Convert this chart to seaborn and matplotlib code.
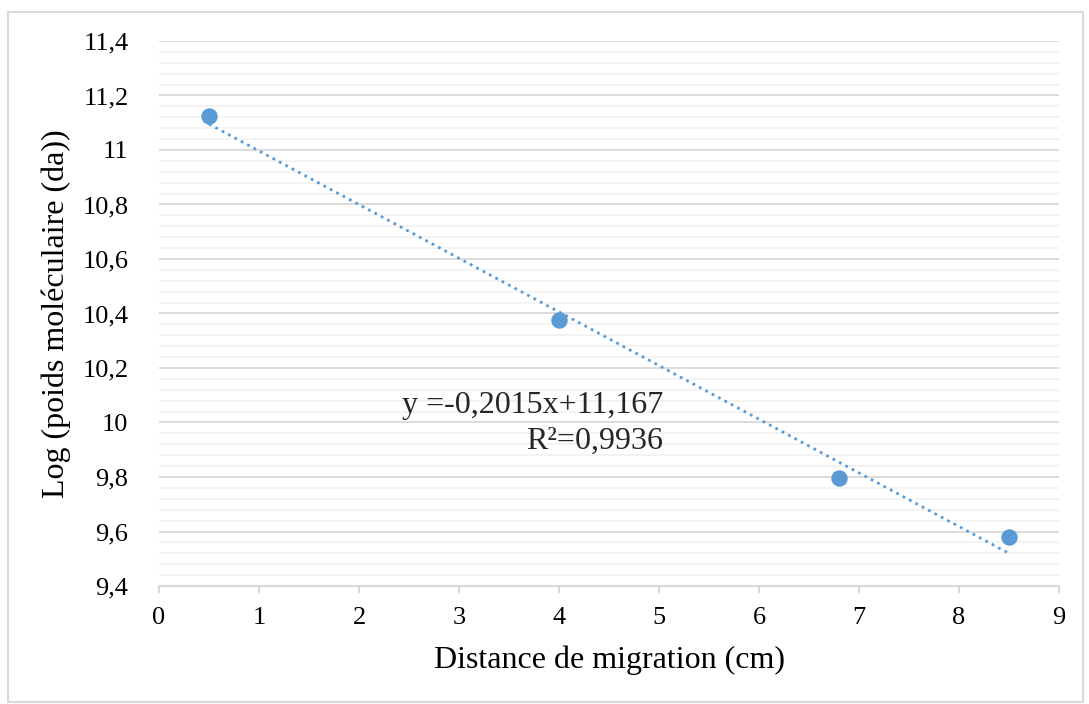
import numpy as np
import pandas as pd
import seaborn as sns
import matplotlib.pyplot as plt
from matplotlib.ticker import MultipleLocator, FuncFormatter
from matplotlib.patches import Rectangle

distance = [0.5, 4.0, 6.8, 8.5]
log_pm = [11.125, 10.375, 9.795, 9.58]
equation_text = "y =-0,2015x+11,167"
r2_text = "R²=0,9936"
x_label = "Distance de migration (cm)"
y_label = "Log (poids moléculaire (da))"

df = pd.DataFrame({"x": distance, "y": log_pm})

sns.set_theme(style="white")
plt.rcParams['font.family'] = ['Liberation Serif', 'DejaVu Serif']

fig = plt.figure(figsize=(10.89, 7.04), dpi=100)
ax = fig.add_axes([0.146, 0.1676, 0.8265, 0.7742])

fig.patches.append(Rectangle((8/1089, 2/704), 1075/1089, 690/704, transform=fig.transFigure,
                             fill=False, edgecolor='#d9d9d9', linewidth=1.5))

color = '#5b9bd5'
# trendline fitted from the data
coef = np.polyfit(df["x"], df["y"], 1)
xs = np.array([min(distance), max(distance)])
ax.plot(xs, np.polyval(coef, xs), linestyle=(0, (1, 1.6)), color=color, linewidth=2.0, zorder=3)
sns.scatterplot(data=df, x="x", y="y", ax=ax, color=color, s=140, edgecolor=color, linewidth=0, zorder=4)

ax.set_xlim(0, 9)
ax.set_ylim(9.4, 11.4)
ax.xaxis.set_major_locator(MultipleLocator(1))
ax.yaxis.set_major_locator(MultipleLocator(0.2))
ax.yaxis.set_minor_locator(MultipleLocator(0.04))

def fmt(v, pos):
    s = f"{v:.1f}"
    if s.endswith(".0"):
        s = s[:-2]
    return s.replace(".", ",")

ax.yaxis.set_major_formatter(FuncFormatter(fmt))
ax.xaxis.set_major_formatter(FuncFormatter(lambda v, p: f"{v:.0f}"))

ax.grid(False)
ax.set_axisbelow(True)
ax.yaxis.grid(True, which='major', color='#d9d9d9', linewidth=1.3)
ax.yaxis.grid(True, which='minor', color='#f2f2f2', linewidth=1.3)

for s in ['left', 'right', 'top']:
    ax.spines[s].set_visible(False)
ax.spines['bottom'].set_color('#d9d9d9')
ax.spines['bottom'].set_linewidth(1.5)

ax.tick_params(axis='x', which='major', direction='out', length=5, width=1.5, color='#d9d9d9',
               bottom=True, labelsize=19, pad=10, labelcolor='black')
ax.tick_params(axis='y', which='both', length=0, labelsize=19, pad=22, labelcolor='black')

ax.set_xlabel(x_label, fontsize=23, color='black', labelpad=12)
ax.set_ylabel(y_label, fontsize=23, color='black', labelpad=8)

fig.text(663/1089, 1 - 406/704, equation_text, fontsize=23, ha='right', va='center')
fig.text(663/1089, 1 - 441/704, r2_text, fontsize=23, ha='right', va='center')

fig.savefig("out.png", dpi=100)
